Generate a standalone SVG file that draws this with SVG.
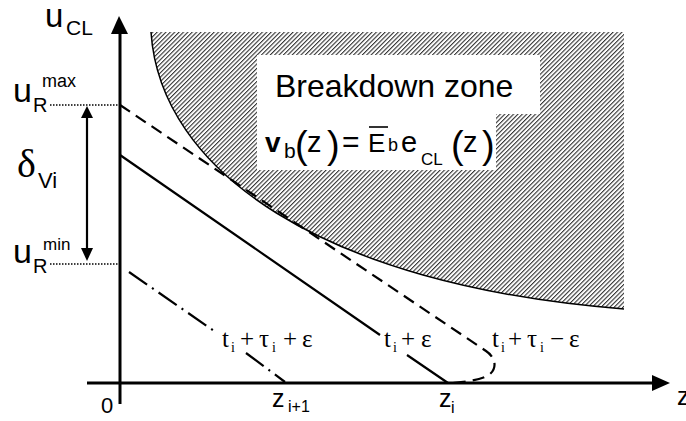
<svg xmlns="http://www.w3.org/2000/svg" width="686" height="421" viewBox="0 0 686 421">
<defs>
<pattern id="hatch" width="3.1" height="3.1" patternUnits="userSpaceOnUse" patternTransform="rotate(45)">
<rect x="0" y="0" width="1.1" height="3.1" fill="#333"/>
</pattern>
<style>
.ax{stroke:#000;stroke-width:3;fill:none}
.ln{stroke:#000;stroke-width:2.2;fill:none}
.dot{stroke:#000;stroke-width:1.5;stroke-dasharray:1.5 1.5;fill:none}
.sans{font-family:"Liberation Sans",Arial,sans-serif;fill:#000}
.serif{font-family:"Liberation Serif","Times New Roman",serif;fill:#000}
</style>
</defs>
<rect width="686" height="421" fill="#fff"/>

<g id="breakdown-zone">
<path d="M151,32 L624,32 L624,309 C320,285 160,170 151,32 Z" fill="url(#hatch)"/>
<path d="M151,32 C160,170 320,285 624,309" stroke="#000" stroke-width="1.5" fill="none"/>
<rect x="257" y="55" width="283" height="59" fill="#fff"/>
<rect x="257" y="113" width="239" height="57" fill="#fff"/>
<text class="sans" x="275" y="97" font-size="32">Breakdown zone</text>
<text class="sans" x="265" y="152" font-size="28" font-weight="bold">v</text>
<text class="sans" x="284" y="158" font-size="21">b</text>
<text class="sans" x="295" y="158" font-size="38">(</text>
<text class="sans" x="307" y="152" font-size="29">z</text>
<text class="sans" x="327" y="158" font-size="38">)</text>
<text class="sans" x="342" y="152" font-size="30">=</text>
<text class="sans" x="368" y="152" font-size="26">E</text>
<line x1="369" y1="127" x2="388" y2="127" stroke="#000" stroke-width="1.6"/>
<text class="sans" x="388" y="151" font-size="18">b</text>
<text class="sans" x="401" y="152" font-size="29">e</text>
<text class="sans" x="421" y="165" font-size="17">CL</text>
<text class="sans" x="451" y="158" font-size="38">(</text>
<text class="sans" x="463" y="152" font-size="29">z</text>
<text class="sans" x="482" y="158" font-size="38">)</text>
</g>

<g id="axes">
<line class="ax" x1="120" y1="404" x2="120" y2="30"/>
<polygon points="111,34 119,16 128,34" fill="#000"/>
<line class="ax" x1="87" y1="383" x2="655" y2="383"/>
<polygon points="652,375 670,383 652,391" fill="#000"/>
</g>

<g id="labels">
<text class="sans" x="45" y="27" font-size="33">u</text>
<text class="sans" x="66" y="35" font-size="21">CL</text>
<text class="sans" x="13" y="102" font-size="34">u</text>
<text class="sans" x="33" y="112" font-size="20">R</text>
<text class="sans" x="42" y="87" font-size="18">max</text>
<text class="sans" x="13" y="263" font-size="34">u</text>
<text class="sans" x="33" y="273" font-size="20">R</text>
<text class="sans" x="43" y="250" font-size="17">min</text>
<text class="serif" x="17" y="177" font-size="40">δ</text>
<text class="sans" x="38" y="188" font-size="22">Vi</text>
<text class="sans" x="101" y="413" font-size="22">0</text>
<text class="sans" x="272" y="407" font-size="25">z</text>
<text class="sans" x="288" y="412" font-size="16">i+1</text>
<text class="sans" x="439" y="407" font-size="25">z</text>
<text class="sans" x="451" y="413" font-size="16">i</text>
<text class="sans" x="677" y="405" font-size="25">z</text>
</g>

<g id="curve-labels">
<text class="serif" y="347" font-size="25"><tspan x="222">t</tspan><tspan x="231" y="352" font-size="14">i</tspan><tspan x="240" y="347">+</tspan><tspan x="259">τ</tspan><tspan x="272" y="352" font-size="14">i</tspan><tspan x="283" y="347">+</tspan><tspan x="302">ε</tspan></text>
<text class="serif" y="347" font-size="25"><tspan x="384">t</tspan><tspan x="393" y="352" font-size="14">i</tspan><tspan x="401" y="347">+</tspan><tspan x="421">ε</tspan></text>
<text class="serif" y="347" font-size="25"><tspan x="492">t</tspan><tspan x="501" y="352" font-size="14">i</tspan><tspan x="508" y="347">+</tspan><tspan x="527">τ</tspan><tspan x="540" y="352" font-size="14">i</tspan><tspan x="550" y="347">−</tspan><tspan x="569">ε</tspan></text>
</g>

<g id="connectors">
<line class="dot" x1="50" y1="105" x2="120" y2="105"/>
<line class="dot" x1="50" y1="264" x2="120" y2="264"/>
<line class="ln" x1="87" y1="116" x2="87" y2="250" stroke-width="2"/>
<polygon points="81,118 87,106 93,118" fill="#000"/>
<polygon points="81,248 87,261 93,248" fill="#000"/>
<path class="ln" d="M120,105 L486,351 C498,359 497,372 485,377 C475,381 462,382 452,383" stroke-dasharray="12 7"/>
<path class="ln" d="M120,155 L380,335 M407,355 L448,383"/>
<path class="ln" d="M129,272 L217,333 M246,353 L285,382" stroke-dasharray="22 6 2 6"/>
</g>
</svg>
